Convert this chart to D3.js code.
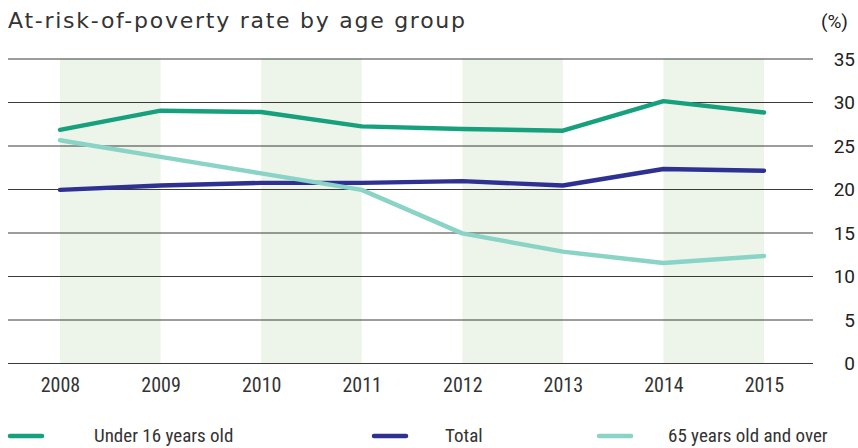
<!DOCTYPE html>
<html><head><meta charset="utf-8">
<script src="https://cdn.jsdelivr.net/npm/d3@7"></script>
<style>body{margin:0;background:#fff}svg{display:block}</style>
</head><body>
<svg id="c" width="858" height="448"></svg>
<script>
const years = [2008, 2009, 2010, 2011, 2012, 2013, 2014, 2015];
const under16 = [26.8, 29.0, 28.85, 27.2, 26.9, 26.7, 30.1, 28.8];
const total = [19.9, 20.4, 20.7, 20.7, 20.9, 20.4, 22.3, 22.1];
const over65 = [25.6, 23.7, 21.8, 19.9, 14.9, 12.8, 11.5, 12.3];
const yTicks = [0, 5, 10, 15, 20, 25, 30, 35];
const shadedYears = [2008, 2010, 2012, 2014];
const seriesNames = ["Under 16 years old", "Total", "65 years old and over"];
const seriesColors = ["#16a07e", "#2e3192", "#89d3c7"];

const svg = d3.select("#c");
const x = d3.scaleLinear().domain([2008, 2015]).range([60, 764]);
const y = d3.scaleLinear().domain([0, 35]).range([363, 58.5]);

// bands
svg.append("g").selectAll("rect").data(shadedYears).join("rect")
  .attr("x", d => x(d)).attr("width", d => x(d + 1) - x(d))
  .attr("y", y(35)).attr("height", y(0) - y(35))
  .attr("fill", "#edf5ea");

// grid + y labels
const yAxis = d3.axisRight(y).tickValues(yTicks).tickSize(805).tickPadding(0).tickFormat(d3.format("d"));
const gy = svg.append("g").attr("transform", "translate(8,0)").call(yAxis);
gy.select(".domain").remove();
gy.selectAll(".tick line").attr("stroke", "#3a3a3a").attr("stroke-width", 1);
gy.selectAll(".tick text").attr("x", 847).attr("text-anchor", "end")
  .attr("font-family", "Roboto, sans-serif").attr("font-size", 19).attr("fill", "#222").attr("dy", "0.35em");

// x labels
const xAxis = d3.axisBottom(x).tickValues(years).tickSize(0).tickPadding(0).tickFormat(d3.format("d"));
const gx = svg.append("g").attr("transform", "translate(0,378)").call(xAxis);
gx.select(".domain").remove();
gx.selectAll(".tick text").attr("font-family", "'Liberation Sans Narrow', 'Roboto Condensed', sans-serif")
  .attr("font-size", 20).attr("fill", "#333");

// lines
const line = d3.line().x((d, i) => x(years[i])).y(d => y(d));
[under16, total, over65].forEach((s, i) => {
  svg.append("path").datum(s).attr("d", line).attr("fill", "none")
    .attr("stroke", seriesColors[i]).attr("stroke-width", 4.4)
    .attr("stroke-linecap", "round").attr("stroke-linejoin", "round");
});

// title
svg.append("text").attr("x", 8).attr("y", 28).text("At-risk-of-poverty rate by age group")
  .attr("font-family", "'DejaVu Sans', sans-serif").attr("font-size", 22).attr("fill", "#333")
  .attr("textLength", 457);
svg.append("text").attr("x", 848).attr("y", 28).attr("text-anchor", "end").text("(%)")
  .attr("font-family", "Roboto, sans-serif").attr("font-size", 19).attr("fill", "#222");

// legend
const legX = [8, 372, 597];
const leg = svg.append("g").selectAll("g").data(seriesNames).join("g")
  .attr("transform", (d, i) => `translate(${legX[i]},436)`);
leg.append("line").attr("x1", 2).attr("x2", 34).attr("y1", 0).attr("y2", 0)
  .attr("stroke", (d, i) => seriesColors[i]).attr("stroke-width", 4.5).attr("stroke-linecap", "round");
leg.append("text").attr("x", (d, i) => [86, 73, 71][i]).attr("y", 6).text(d => d)
  .attr("font-family", "'Liberation Sans Narrow', 'Roboto Condensed', sans-serif")
  .attr("font-size", 19).attr("fill", "#333");
</script>
</body></html>
